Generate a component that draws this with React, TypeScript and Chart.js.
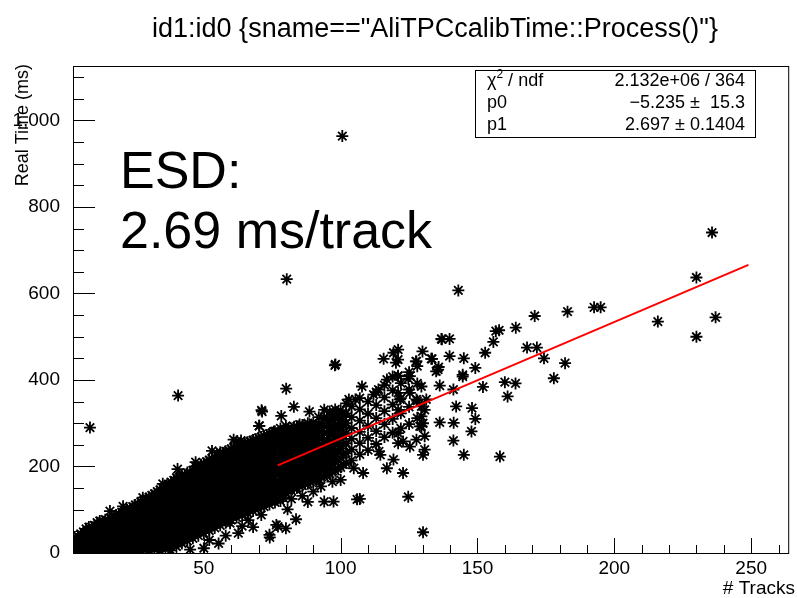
import React, { useEffect, useRef } from "react";
import { Chart, registerables } from "chart.js";

Chart.register(...registerables);

const FONT = '"Liberation Sans", Arial, Helvetica, sans-serif';

const titleText = 'id1:id0 {sname=="AliTPCcalibTime::Process()"}';
const xAxisTitle = "# Tracks";
const yAxisTitle = "Real Time (ms)";
const xTickValues = [50, 100, 150, 200, 250];
const yTickValues = [0, 200, 400, 600, 800, 1000];
const xRange = [2.2, 263.9];
const yRange = [0, 1126];

const fitP0 = -5.235;
const fitP1 = 2.697;
const fitRange = [77, 249];

const statsRows = [
  ["χ2 / ndf", "2.132e+06 / 364"],
  ["p0", "\u22125.235 \u00b1  15.3"],
  ["p1", "2.697 \u00b1 0.1404"],
];
const noteLines = ["ESD:", "2.69 ms/track"];

// dense core of the cloud: one column of times per (even) track count
const blobTracks = [2, 4, 6, 8, 10, 12, 14, 16, 18, 20, 22, 24, 26, 28, 30, 32, 34, 36, 38, 40, 42, 44, 46, 48, 50, 52, 54, 56, 58, 60, 62, 64, 66, 68, 70, 72, 74, 76];
const blobTimes = [
  [1, 9, 17, 26],
  [3, 11, 20, 30, 39],
  [1, 10, 19, 29, 40, 49],
  [4, 13, 23, 33, 43, 53, 60],
  [2, 12, 22, 33, 44, 55, 64],
  [5, 15, 26, 36, 47, 57, 67, 74],
  [2, 13, 24, 35, 46, 57, 68, 77],
  [6, 17, 28, 40, 51, 62, 72, 81],
  [3, 14, 26, 38, 50, 61, 72, 82, 88],
  [7, 19, 31, 43, 55, 66, 77, 87, 94],
  [2, 13, 25, 37, 49, 61, 73, 84, 94, 100],
  [6, 18, 30, 42, 54, 66, 78, 90, 100, 107],
  [3, 15, 27, 40, 52, 64, 76, 88, 99, 109, 114],
  [8, 20, 33, 45, 57, 69, 81, 93, 105, 115, 121],
  [4, 16, 29, 42, 54, 66, 78, 90, 102, 114, 123, 129],
  [9, 22, 35, 47, 59, 71, 83, 95, 107, 119, 130, 137],
  [5, 18, 31, 44, 56, 68, 80, 92, 104, 116, 128, 139, 146],
  [10, 23, 36, 49, 61, 73, 85, 97, 109, 121, 133, 145, 155],
  [6, 19, 32, 45, 58, 70, 82, 94, 106, 118, 130, 142, 154, 164],
  [15, 28, 41, 54, 66, 78, 90, 102, 114, 126, 138, 150, 162, 174],
  [22, 35, 48, 61, 73, 85, 97, 109, 121, 133, 145, 157, 169, 180],
  [28, 41, 54, 67, 79, 91, 103, 115, 127, 139, 151, 163, 175, 186],
  [34, 47, 60, 72, 84, 96, 108, 120, 132, 144, 156, 168, 180, 191],
  [40, 53, 65, 77, 89, 101, 113, 125, 137, 149, 161, 173, 185, 196],
  [46, 58, 70, 82, 94, 106, 118, 130, 142, 154, 166, 178, 190, 201, 207],
  [52, 64, 76, 88, 100, 112, 124, 136, 148, 160, 172, 184, 196, 207, 215],
  [58, 70, 82, 94, 106, 118, 130, 142, 154, 166, 178, 190, 202, 213, 222],
  [64, 76, 88, 100, 112, 124, 136, 148, 160, 172, 184, 196, 208, 219, 229],
  [70, 82, 94, 106, 118, 130, 142, 154, 166, 178, 190, 202, 214, 225, 235],
  [76, 88, 100, 112, 124, 136, 148, 160, 172, 184, 196, 208, 220, 231, 241],
  [82, 94, 106, 118, 130, 142, 154, 166, 178, 190, 202, 214, 226, 237, 246],
  [87, 99, 111, 123, 135, 147, 159, 171, 183, 195, 207, 219, 231, 242, 251],
  [92, 104, 116, 128, 140, 152, 164, 176, 188, 200, 212, 224, 236, 247, 256],
  [97, 109, 121, 133, 145, 157, 169, 181, 193, 205, 217, 229, 241, 252, 261],
  [102, 114, 126, 138, 150, 162, 174, 186, 198, 210, 222, 234, 246, 257, 266],
  [107, 119, 131, 143, 155, 167, 179, 191, 203, 215, 227, 239, 251, 262, 271],
  [112, 124, 136, 148, 160, 172, 184, 196, 208, 220, 232, 244, 256, 267, 276],
  [117, 129, 141, 153, 165, 177, 189, 201, 213, 225, 237, 249, 261, 272, 281],
];

// dense core, odd track counts
const blobOddTracks = [3, 5, 7, 9, 11, 13, 15, 17, 19, 21, 23, 25, 27, 29, 31, 33, 35, 37, 39, 41, 43, 45, 47, 49, 51, 53, 55, 57, 59, 61, 63, 65, 67, 69, 71, 73, 75];
const blobOddTimes = [
  [5, 13, 22, 31],
  [6, 15, 25, 35, 44],
  [6, 16, 26, 37, 48, 56],
  [7, 17, 28, 39, 50, 60],
  [8, 18, 29, 40, 51, 61, 70],
  [8, 19, 30, 41, 52, 63, 73],
  [10, 21, 33, 44, 55, 66, 76],
  [9, 20, 32, 44, 56, 67, 78, 85],
  [10, 22, 34, 46, 58, 70, 81, 90],
  [8, 20, 32, 44, 56, 68, 80, 90, 97],
  [10, 22, 34, 46, 58, 70, 82, 93, 103],
  [9, 21, 34, 46, 58, 70, 82, 94, 105, 111],
  [12, 24, 37, 49, 61, 73, 85, 97, 109, 118],
  [10, 22, 35, 48, 60, 72, 84, 96, 108, 119, 126],
  [13, 26, 39, 51, 63, 75, 87, 99, 111, 123, 133],
  [12, 25, 38, 50, 62, 74, 86, 98, 110, 122, 134, 142],
  [14, 27, 40, 53, 65, 77, 89, 101, 113, 125, 137, 150],
  [13, 26, 39, 52, 64, 76, 88, 100, 112, 124, 136, 148, 159],
  [20, 35, 48, 60, 72, 84, 96, 108, 120, 132, 144, 156, 168],
  [28, 41, 54, 67, 79, 91, 103, 115, 127, 139, 151, 163, 175],
  [35, 48, 61, 73, 85, 97, 109, 121, 133, 145, 157, 169, 181],
  [41, 54, 66, 78, 90, 102, 114, 126, 138, 150, 162, 174, 186],
  [47, 59, 71, 83, 95, 107, 119, 131, 143, 155, 167, 179, 191, 200],
  [52, 64, 76, 88, 100, 112, 124, 136, 148, 160, 172, 184, 196, 204],
  [58, 70, 82, 94, 106, 118, 130, 142, 154, 166, 178, 190, 202, 211],
  [64, 76, 88, 100, 112, 124, 136, 148, 160, 172, 184, 196, 208, 218],
  [70, 82, 94, 106, 118, 130, 142, 154, 166, 178, 190, 202, 214, 225],
  [76, 88, 100, 112, 124, 136, 148, 160, 172, 184, 196, 208, 220, 231],
  [82, 94, 106, 118, 130, 142, 154, 166, 178, 190, 202, 214, 226, 237],
  [88, 100, 112, 124, 136, 148, 160, 172, 184, 196, 208, 220, 232, 243],
  [93, 105, 117, 129, 141, 153, 165, 177, 189, 201, 213, 225, 237, 248],
  [98, 110, 122, 134, 146, 158, 170, 182, 194, 206, 218, 230, 242, 253],
  [103, 115, 127, 139, 151, 163, 175, 187, 199, 211, 223, 235, 247, 258],
  [108, 120, 132, 144, 156, 168, 180, 192, 204, 216, 228, 240, 252, 263],
  [113, 125, 137, 149, 161, 173, 185, 197, 209, 221, 233, 245, 257, 268],
  [118, 130, 142, 154, 166, 178, 190, 202, 214, 226, 238, 250, 262, 273],
  [123, 135, 147, 159, 171, 183, 195, 207, 219, 231, 243, 255, 267, 278],
];

// thinner part of the cloud at higher track counts
const bandTracks = [78, 79, 80, 81, 82, 83, 84, 85, 86, 87, 88, 89, 90, 91, 92, 93, 94, 95, 96, 97, 98, 99, 100, 101, 102, 104, 107, 110, 113, 116, 119, 122, 125, 128];
const bandTimes = [
  [120, 133, 146, 159, 172, 185, 198, 211, 224, 237, 250, 263, 276, 288],
  [128, 141, 154, 167, 180, 193, 206, 219, 232, 245, 258, 271, 284],
  [138, 151, 164, 177, 190, 203, 216, 229, 242, 255, 268, 281, 294],
  [145, 158, 171, 184, 197, 210, 223, 236, 249, 262, 275, 288],
  [144, 157, 170, 183, 196, 209, 222, 235, 248, 261, 274, 287],
  [150, 163, 176, 189, 202, 215, 228, 241, 254, 267, 280, 292],
  [150, 163, 176, 189, 202, 215, 228, 241, 254, 267, 280, 293],
  [155, 168, 181, 194, 207, 220, 233, 246, 259, 272, 285, 297],
  [156, 170, 184, 198, 212, 226, 240, 254, 268, 282, 296],
  [160, 173, 186, 199, 212, 225, 238, 251, 264, 277, 290],
  [160, 174, 188, 202, 216, 230, 244, 258, 272, 286, 300],
  [165, 178, 191, 204, 217, 230, 243, 256, 269, 282, 295],
  [166, 181, 196, 211, 226, 241, 256, 271, 286, 301],
  [170, 184, 198, 212, 226, 240, 254, 268, 282, 296],
  [170, 186, 202, 218, 234, 250, 266, 282, 298, 314],
  [176, 191, 206, 221, 236, 251, 266, 281, 296],
  [176, 193, 210, 227, 244, 261, 278, 295, 312],
  [182, 198, 214, 230, 246, 262, 278, 294, 310],
  [183, 201, 219, 237, 255, 273, 291, 309, 327],
  [190, 207, 224, 241, 258, 275, 292, 310],
  [190, 210, 230, 250, 270, 290, 310, 332],
  [196, 216, 236, 256, 276, 296, 318],
  [198, 220, 242, 264, 286, 308, 330],
  [205, 228, 250, 272, 294, 316],
  [208, 231, 254, 277, 300, 323, 346],
  [214, 239, 264, 289, 314, 339],
  [228, 254, 280, 306, 332, 358],
  [238, 266, 294, 322, 350],
  [252, 282, 312, 342, 372],
  [268, 298, 328, 360, 388],
  [278, 310, 343, 376, 408],
  [288, 323, 358, 393],
  [298, 338, 378, 418],
  [312, 352, 392, 432],
];

// individually read stray entries
const strayTracks = [
  8.4, 40.6, 71.3, 70.2, 75.6, 60.9, 63.6, 67.2, 53, 56, 40.4, 47, 35, 27.7, 20.5, 15.7,
  50, 74, 76.5, 66.3, 71, 59.6, 55.4, 62.6, 45, 52, 58, 68, 64,
  80.1, 71.1, 82.9, 70.3, 78.3, 88.6, 94, 97.6, 97.9, 62,
  115.7, 119.3, 120.2, 129.9, 127.5, 133.1, 136.8, 107.8, 116.9, 121, 124.7, 103, 105.4, 112, 113.8, 121.7, 129.5, 131.3, 134.9,
  128.9, 130.1, 122.8, 124.7, 130.1, 94, 97.4, 106, 107, 116.9, 119.3, 114.5, 100, 97, 92.8, 83.7, 80.6, 80, 77.1, 74.1, 108.2, 104.8, 114, 82, 86, 90, 88,
  143, 170.9, 182.9, 192.6, 195, 164, 157.9, 156.7, 155.8, 152.8, 168.1, 171.7, 174.3, 182, 177.9, 137, 139.8, 127.7, 133.4, 139.8, 145, 149.2, 144.6, 144.6, 135.6, 135.8, 152, 160, 163.9, 161, 141.2, 136.2, 142.2, 148, 149.2, 147.8, 141.3, 136.2, 141.2, 145, 158.2, 130.1,
  121, 121, 121, 121, 121, 121, 121, 125.3, 125.3, 127.7, 129.5, 130.7, 129.5, 129.5, 130.7, 130.7, 125.3, 122.8, 127.7,
  235.7, 230, 237, 230, 215.9,
  100.6, 80.3, 98.1,
];
const strayTimes = [
  290, 364, 327, 294, 281, 262, 260, 256, 236, 233, 194, 210, 160, 128, 108, 97,
  11, 42, 65, 76, 88, 69, 22, 46, 8, 30, 40, 60, 62,
  380, 330, 338, 294, 317, 327, 331, 324, 434, 258,
  449, 463, 440, 466, 443, 449, 495, 385, 401, 410, 403, 355, 355, 366, 378, 355, 385, 355, 420,
  293, 300, 185, 130, 48, 119, 119, 124, 125, 196, 216, 227, 169, 165, 154, 78, 101, 57, 61, 36, 185, 196, 235, 125, 132, 142, 118,
  607, 548, 558, 568, 568, 521, 515, 513, 488, 463, 475, 475, 450, 439, 404, 494, 495, 443, 449, 455, 450, 428, 408, 412, 424, 430, 384, 395, 392, 362, 378, 387, 339, 335, 310, 281, 301, 302, 260, 227, 223, 227,
  470, 447, 409, 370, 331, 277, 254, 409, 370, 355, 339, 331, 316, 293, 270, 239, 246, 258, 262,
  741, 637, 545, 500, 535,
  964, 633, 436,
];

function buildPoints() {
  const pts: { x: number; y: number }[] = [];
  blobTracks.forEach((t, i) => blobTimes[i].forEach((v) => pts.push({ x: t, y: v })));
  blobOddTracks.forEach((t, i) => blobOddTimes[i].forEach((v) => pts.push({ x: t, y: v })));
  bandTracks.forEach((t, i) => bandTimes[i].forEach((v) => pts.push({ x: t, y: v })));
  strayTracks.forEach((t, i) => pts.push({ x: t, y: strayTimes[i] }));
  return pts;
}

const rootDecor = {
  id: "rootDecor",
  afterDraw(chart: any) {
    const { ctx, chartArea: a, scales } = chart;
    const xs = scales.x;
    const ys = scales.y;
    ctx.save();
    ctx.strokeStyle = "#000";
    ctx.lineWidth = 1;
    ctx.beginPath();
    for (let v = 50; v <= ys.max; v += 50) {
      const py = Math.round(ys.getPixelForValue(v)) + 0.5;
      const len = v % 200 === 0 ? 22 : 11;
      ctx.moveTo(a.left, py);
      ctx.lineTo(a.left + len, py);
    }
    for (let v = 10; v <= xs.max; v += 10) {
      const px = Math.round(xs.getPixelForValue(v)) + 0.5;
      const len = v % 50 === 0 ? 15 : 8;
      ctx.moveTo(px, a.bottom);
      ctx.lineTo(px, a.bottom - len);
    }
    ctx.stroke();
    ctx.strokeRect(a.left + 0.5, a.top + 0.5, a.right - a.left - 1, a.bottom - a.top);

    ctx.fillStyle = "#000";
    // title
    ctx.font = `27px ${FONT}`;
    ctx.textAlign = "center";
    ctx.textBaseline = "alphabetic";
    ctx.fillText(titleText, 435, 37);

    // axis titles
    ctx.font = `19px ${FONT}`;
    ctx.textAlign = "right";
    ctx.fillText(xAxisTitle, 795, 594);
    ctx.save();
    ctx.translate(28, 64);
    ctx.rotate(-Math.PI / 2);
    ctx.font = `18px ${FONT}`;
    ctx.textAlign = "right";
    ctx.fillText(yAxisTitle, 0, 0);
    ctx.restore();

    // stats box
    const bx = 475.5, by = 70.5, bw = 280, bh = 67;
    ctx.fillStyle = "#fff";
    ctx.fillRect(bx, by, bw, bh);
    ctx.strokeRect(bx, by, bw, bh);
    ctx.fillStyle = "#000";
    ctx.font = `18px ${FONT}`;
    ctx.textBaseline = "middle";
    const rowY = [81, 103, 125];
    statsRows.forEach((row, i) => {
      const yy = rowY[i];
      ctx.textAlign = "left";
      if (row[0].startsWith("χ2")) {
        ctx.fillText("χ", 487, yy);
        let w = ctx.measureText("χ").width;
        ctx.font = `12px ${FONT}`;
        ctx.fillText("2", 487 + w, yy - 6);
        w += ctx.measureText("2").width;
        ctx.font = `18px ${FONT}`;
        ctx.fillText(" / ndf", 487 + w, yy);
      } else {
        ctx.fillText(row[0], 487, yy);
      }
      ctx.textAlign = "right";
      ctx.fillText(row[1], 745, yy);
    });

    // annotation
    ctx.textAlign = "left";
    ctx.textBaseline = "alphabetic";
    ctx.font = `52px ${FONT}`;
    ctx.fillText(noteLines[0], 120, 188);
    ctx.fillText(noteLines[1], 120, 248);
    ctx.restore();
  },
};

export default function App() {
  const canvasRef = useRef<HTMLCanvasElement | null>(null);

  useEffect(() => {
    const canvas = canvasRef.current;
    if (!canvas) return;
    const fitLine = fitRange.map((t) => ({ x: t, y: fitP0 + fitP1 * t }));
    const chart = new Chart(canvas, {
      type: "scatter",
      data: {
        datasets: [
          {
            label: "fit",
            data: fitLine,
            showLine: true,
            borderColor: "#ff0000",
            borderWidth: 2,
            pointRadius: 0,
            order: 0,
          },
          {
            label: "id1:id0",
            data: buildPoints(),
            pointStyle: "star",
            pointRadius: 6,
            borderWidth: 1.8,
            borderColor: "#000",
            backgroundColor: "#000",
            order: 1,
          },
        ],
      },
      options: {
        responsive: false,
        animation: false,
        events: [],
        layout: { padding: { top: 66, right: 1, left: 0, bottom: 0 } },
        plugins: { legend: { display: false }, tooltip: { enabled: false }, title: { display: false } },
        scales: {
          x: {
            type: "linear",
            min: xRange[0],
            max: xRange[1],
            grid: { display: false },
            border: { display: false },
            ticks: { color: "#000", font: { family: FONT, size: 19 }, padding: -4, maxRotation: 0, autoSkip: false },
            afterBuildTicks: (s: any) => {
              s.ticks = xTickValues.map((v) => ({ value: v }));
            },
            afterFit: (s: any) => {
              s.height = 45;
            },
          },
          y: {
            type: "linear",
            min: yRange[0],
            max: yRange[1],
            grid: { display: false },
            border: { display: false },
            ticks: { color: "#000", font: { family: FONT, size: 19 }, padding: 5, autoSkip: false },
            afterBuildTicks: (s: any) => {
              s.ticks = yTickValues.map((v) => ({ value: v }));
            },
            afterFit: (s: any) => {
              s.width = 73;
            },
          },
        },
      },
      plugins: [rootDecor],
    });
    return () => chart.destroy();
  }, []);

  return (
    <div style={{ position: "absolute", left: 0, top: 0, width: 797, height: 598, background: "#fff" }}>
      <canvas ref={canvasRef} width={797} height={598} style={{ display: "block" }} />
    </div>
  );
}
